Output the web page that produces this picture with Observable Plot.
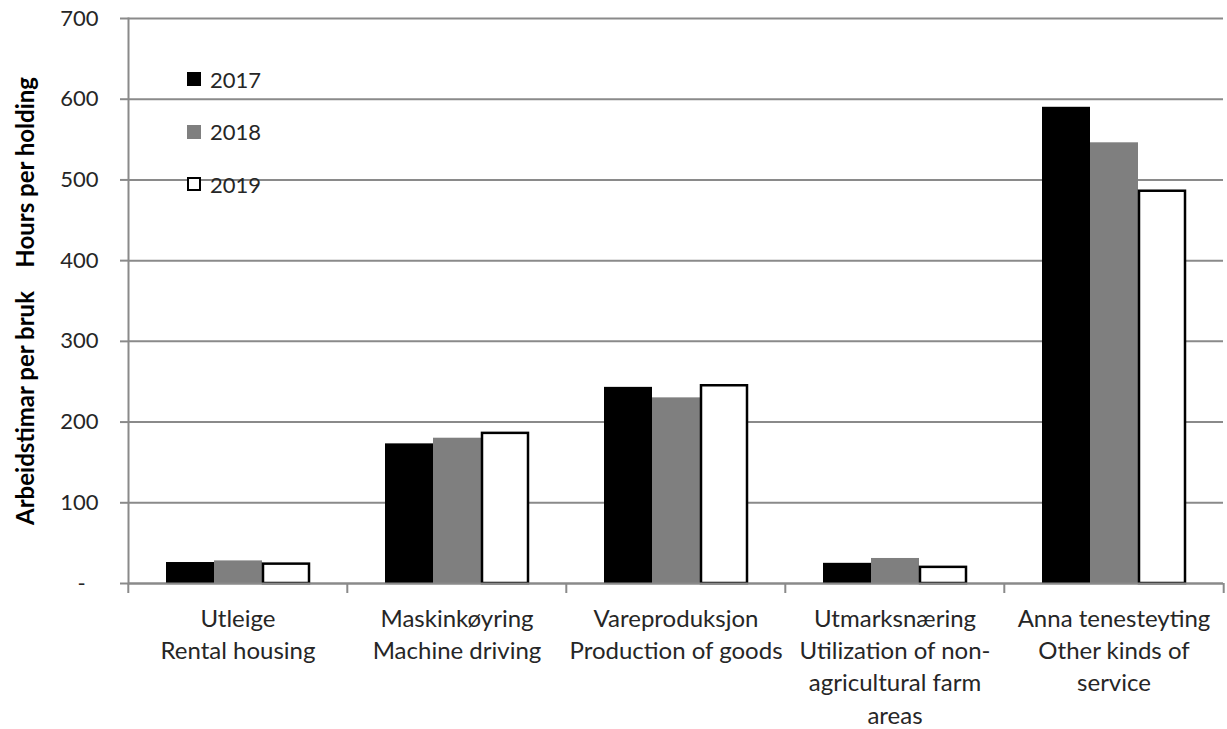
<!DOCTYPE html>
<html>
<head>
<meta charset="utf-8">
<script src="https://cdn.jsdelivr.net/npm/d3@7"></script>
<script src="https://cdn.jsdelivr.net/npm/@observablehq/plot@0.6"></script>
<style>
  html, body { margin: 0; padding: 0; background: #fff; }
  #wrap { position: relative; width: 1227px; height: 729px; font-family: Lato, "Open Sans", sans-serif; color: #262626; }
  #ylabel { position: absolute; left: 24px; top: 301px; transform: translate(-50%, -50%) rotate(-90deg); white-space: pre; font-weight: bold; font-size: 24px; color: #000; }
  #legend { position: absolute; left: 187px; top: 53px; }
  .item { display: flex; align-items: center; height: 52.5px; font-size: 22px; color: #262626; }
  .sw { width: 14px; height: 14px; margin-right: 9px; box-sizing: border-box; }
</style>
</head>
<body>
<div id="wrap">
  <div id="chart"></div>
  <div id="ylabel"></div>
  <div id="legend"></div>
</div>
<script>
const categories = [
  "Utleige\nRental housing",
  "Maskinkøyring\nMachine driving",
  "Vareproduksjon\nProduction of goods",
  "Utmarksnæring\nUtilization of non-\nagricultural farm\nareas",
  "Anna tenesteyting\nOther kinds of\nservice"
];
const years = ["2017", "2018", "2019"];
const values2017 = [26, 173, 243, 25, 590];
const values2018 = [28, 180, 230, 31, 546];
const values2019 = [24, 186, 245, 20, 486];
const yTicks = [0, 100, 200, 300, 400, 500, 600, 700];
const yLabel = "Arbeidstimar per bruk    Hours per holding";
const fills = ["#000000", "#7f7f7f", "#ffffff"];

const series = {"2017": values2017, "2018": values2018, "2019": values2019};
const data = years.flatMap(year => categories.map((cat, i) => ({cat, year, value: series[year][i]})));

const W = 1227, H = 729, mL = 127, mR = 3, mT = 18, mB = 146;
const halfFacet = (W - mL - mR) / categories.length / 2;
const gridColor = "#8a8a8a";

const chart = Plot.plot({
  width: W, height: H,
  marginLeft: mL, marginRight: mR, marginTop: mT, marginBottom: mB,
  style: {fontFamily: "Lato, 'Open Sans', sans-serif", color: "#262626", background: "#fff"},
  fx: {domain: categories, padding: 0, label: null, axis: null},
  x: {domain: years, paddingInner: 0, paddingOuter: 0.75, axis: null},
  y: {domain: [0, 700], axis: null},
  color: {domain: years, range: fills},
  marks: [
    Plot.gridY(yTicks, {stroke: gridColor, strokeOpacity: 1, strokeWidth: 2}),
    Plot.barY(data.filter(d => d.year !== "2019"), {fx: "cat", x: "year", y: "value", fill: "year"}),
    Plot.barY(data.filter(d => d.year === "2019"), {fx: "cat", x: "year", y: "value", fill: "year", stroke: "#000", strokeWidth: 2.5, insetLeft: 1, insetRight: 1}),
    Plot.ruleY([0], {stroke: gridColor, strokeWidth: 2}),
    Plot.frame({anchor: "left", facetAnchor: "left", stroke: gridColor, strokeWidth: 2}),
    Plot.axisY({ticks: yTicks, tickSize: 8, tickPadding: 22, stroke: gridColor, strokeWidth: 2, fill: "#262626", fontSize: 22, label: null,
      tickFormat: d => d === 0 ? "-\u2007" : String(d)}),
    Plot.axisFx({anchor: "bottom", tickSize: 0, tickPadding: 20, fontSize: 24, lineHeight: 1.35, fill: "#262626", label: null}),
    Plot.axisFx({anchor: "bottom", tickSize: 10, dx: -halfFacet, stroke: gridColor, strokeWidth: 2, fill: "none", label: null}),
    Plot.axisFx({anchor: "bottom", ticks: [categories[categories.length - 1]], tickSize: 10, dx: halfFacet, stroke: gridColor, strokeWidth: 2, fill: "none", label: null})
  ]
});
document.getElementById("chart").appendChild(chart);

document.getElementById("ylabel").textContent = yLabel;
const legend = document.getElementById("legend");
years.forEach((y, i) => {
  const item = document.createElement("div");
  item.className = "item";
  const sw = document.createElement("div");
  sw.className = "sw";
  sw.style.background = fills[i];
  if (y === "2019") sw.style.border = "2px solid #000";
  const t = document.createElement("span");
  t.textContent = y;
  item.appendChild(sw);
  item.appendChild(t);
  legend.appendChild(item);
});
</script>
</body>
</html>
